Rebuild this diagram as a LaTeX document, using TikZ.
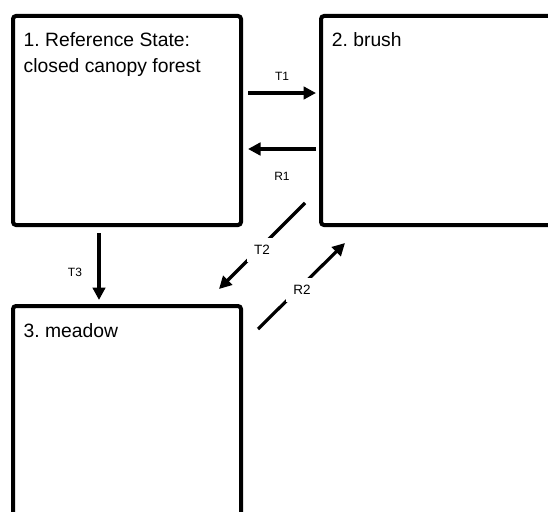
\documentclass[tikz,border=0pt]{standalone}
\usepackage{fontspec}
\setmainfont{Liberation Sans}
\frenchspacing
\usetikzlibrary{arrows.meta}
\tikzset{
  statebox/.style={draw=black, line width=4pt, rounded corners=3pt, fill=white, inner sep=0pt, outer sep=0pt, anchor=north west},
  statetext/.style={anchor=base west, inner sep=0pt, align=left, font=\fontsize{19.3}{26}\selectfont},
  arr/.style={line width=3.2pt, -{Triangle[length=12.5pt,width=12.5pt]}},
  lbl/.style={inner sep=0pt, font=\fontsize{12}{13}\selectfont},
  dlbl/.style={inner sep=7.5pt, fill=white, font=\fontsize{13.5}{15}\selectfont},
}
\begin{document}
\begin{tikzpicture}[x=1pt, y=-1pt]
\useasboundingbox (0,0) rectangle (548,511);
\clip (0,0) rectangle (548,511);
\fill[white] (0,0) rectangle (548,511);
% state boxes
\node[statebox, minimum width=228pt, minimum height=209pt] (s1) at (13,16) {};
\node[statebox, minimum width=260pt, minimum height=209pt] (s2) at (321,16) {};
\node[statebox, minimum width=228pt, minimum height=260pt] (s3) at (13,306) {};
% texts
\node[statetext] (s1t) at (23.5,72.7) {1. Reference State:\\closed canopy forest};
\node[statetext] (s2t) at (331.7,46.7) {2. brush};
\node[statetext] (s3t) at (23.5,337) {3. meadow};
% connector end points
\coordinate (t1a) at (248,93);  \coordinate (t1b) at (316,93);
\coordinate (r1a) at (316,149); \coordinate (r1b) at (248,149);
\coordinate (t3a) at (99,233);  \coordinate (t3b) at (99,300);
\coordinate (t2a) at (305,203); \coordinate (t2b) at (219,289);
\coordinate (r2a) at (258,329); \coordinate (r2b) at (345,243);
% connectors
\draw[arr] (t1a) -- (t1b);
\draw[arr] (r1a) -- (r1b);
\draw[arr] (t3a) -- (t3b);
\draw[arr] (t2a) -- (t2b);
\draw[arr] (r2a) -- (r2b);
% labels
\node[lbl] (lt1) at (282,76) {T1};
\node[lbl] (lr1) at (282,176) {R1};
\node[lbl] (lt3) at (75,272) {T3};
\node[dlbl] (lt2) at (262,250) {T2};
\node[dlbl] (lr2) at (302,290) {R2};
\end{tikzpicture}
\end{document}
